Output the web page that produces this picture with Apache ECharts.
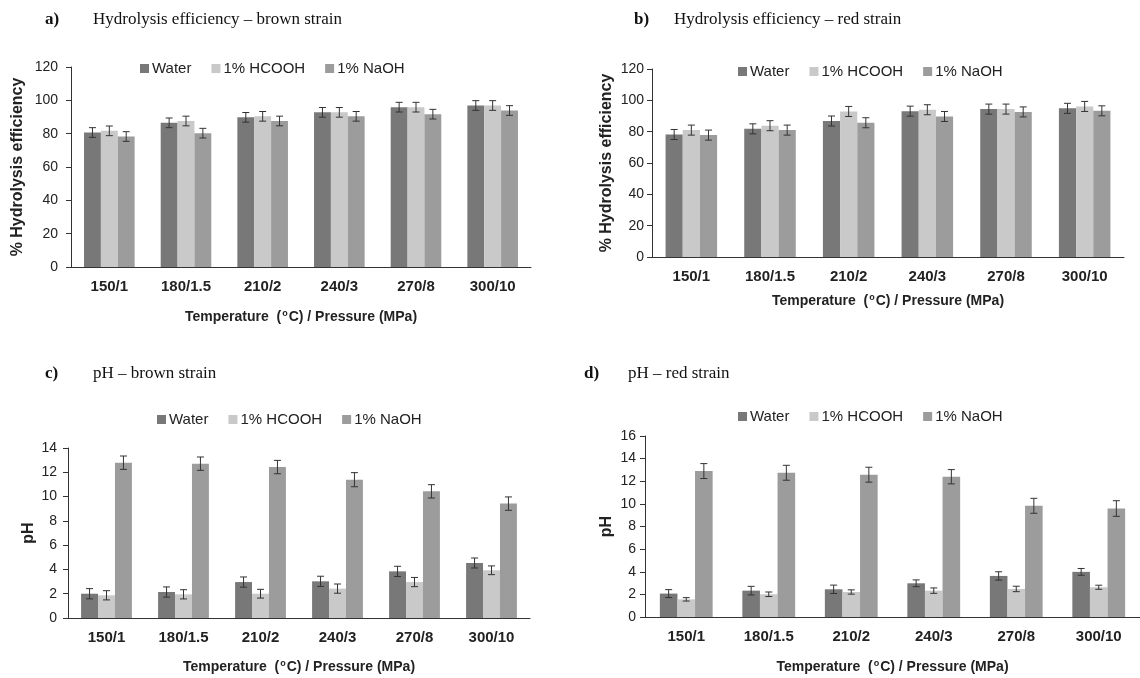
<!DOCTYPE html>
<html>
<head>
<meta charset="utf-8">
<title>Hydrolysis efficiency and pH – brown and red strains</title>
<script src="https://cdn.jsdelivr.net/npm/echarts@6/dist/echarts.min.js"></script>
<style>
  html, body { margin: 0; padding: 0; background: #ffffff; }
  #chart { width: 1140px; height: 678px; }
</style>
</head>
<body>
<div id="chart"></div>
<script>
// Process conditions on the x axis
const categories = ['150/1', '180/1.5', '210/2', '240/3', '270/8', '300/10'];
const treatments = ['Water', '1% HCOOH', '1% NaOH'];

// a) Hydrolysis efficiency (%) – brown strain
const effBrownWater = [80.7, 86.5, 89.8, 92.8, 95.9, 96.9];
const effBrownHcooh = [81.7, 87.6, 90.4, 92.8, 95.9, 96.9];
const effBrownNaoh  = [78.3, 80.3, 87.6, 90.4, 91.7, 93.9];
const effBrownWaterErr = [2.9, 2.9, 2.9, 2.9, 2.9, 2.9];
const effBrownHcoohErr = [2.9, 2.9, 2.9, 2.9, 2.9, 2.9];
const effBrownNaohErr  = [2.9, 2.9, 2.9, 2.9, 2.9, 2.9];

// b) Hydrolysis efficiency (%) – red strain
const effRedWater = [78.2, 81.8, 86.8, 93.1, 94.4, 94.9];
const effRedHcooh = [81.0, 83.8, 92.9, 94.0, 94.4, 96.1];
const effRedNaoh  = [77.8, 81.0, 85.7, 89.7, 92.6, 93.3];
const effRedWaterErr = [3.2, 3.2, 3.2, 3.2, 3.2, 3.2];
const effRedHcoohErr = [3.2, 3.2, 3.2, 3.2, 3.2, 3.2];
const effRedNaohErr  = [3.2, 3.2, 3.2, 3.2, 3.2, 3.2];

// c) pH – brown strain
const phBrownWater = [2.0, 2.14, 2.96, 3.02, 3.84, 4.53];
const phBrownHcooh = [1.87, 1.95, 2.0, 2.42, 2.96, 3.93];
const phBrownNaoh  = [12.79, 12.71, 12.43, 11.39, 10.43, 9.42];
const phBrownWaterErr = [0.42, 0.42, 0.42, 0.42, 0.42, 0.41];
const phBrownHcoohErr = [0.38, 0.38, 0.36, 0.38, 0.38, 0.36];
const phBrownNaohErr  = [0.55, 0.55, 0.55, 0.58, 0.55, 0.55];

// d) pH – red strain
const phRedWater = [2.07, 2.33, 2.45, 2.98, 3.63, 3.99];
const phRedHcooh = [1.56, 2.01, 2.21, 2.33, 2.48, 2.63];
const phRedNaoh  = [12.9, 12.75, 12.58, 12.4, 9.83, 9.59];
const phRedWaterErr = [0.35, 0.38, 0.37, 0.3, 0.37, 0.3];
const phRedHcoohErr = [0.15, 0.2, 0.19, 0.24, 0.24, 0.18];
const phRedNaohErr  = [0.66, 0.66, 0.66, 0.63, 0.66, 0.69];

const colors = ['#787878', '#c9c9c9', '#9c9c9c'];
const sans = 'Liberation Sans, Arial, sans-serif';
const serif = 'Liberation Serif, Times New Roman, serif';

// Panel layout: plot rectangles, axis ranges and label spacing
const panels = [
  { grid: { left: 71, top: 67, width: 460, height: 200 }, max: 120, interval: 20,
    values: [effBrownWater, effBrownHcooh, effBrownNaoh],
    errors: [effBrownWaterErr, effBrownHcoohErr, effBrownNaohErr],
    yName: '% Hydrolysis efficiency', yNameGap: 45, yLabelMargin: 13, xNameGap: 42, gap: 0.34,
    legend: { left: 140, top: 61 } },
  { grid: { left: 652, top: 69, width: 472, height: 188 }, max: 120, interval: 20,
    values: [effRedWater, effRedHcooh, effRedNaoh],
    errors: [effRedWaterErr, effRedHcoohErr, effRedNaohErr],
    yName: '% Hydrolysis efficiency', yNameGap: 37, yLabelMargin: 8, xNameGap: 36, gap: 0.345,
    legend: { left: 738, top: 64 } },
  { grid: { left: 68, top: 448, width: 462, height: 170 }, max: 14, interval: 2,
    values: [phBrownWater, phBrownHcooh, phBrownNaoh],
    errors: [phBrownWaterErr, phBrownHcoohErr, phBrownNaohErr],
    yName: 'pH', yNameGap: 31, yLabelMargin: 11, xNameGap: 41, gap: 0.34,
    legend: { left: 157, top: 412 } },
  { grid: { left: 645, top: 436, width: 501, height: 181 }, max: 16, interval: 2,
    values: [phRedWater, phRedHcooh, phRedNaoh],
    errors: [phRedWaterErr, phRedHcoohErr, phRedNaohErr],
    yName: 'pH', yNameGap: 30, yLabelMargin: 9, xNameGap: 42, gap: 0.36,
    legend: { left: 738, top: 409 } }
];

const xTitle = '{n|Temperature  (}{s|o}{n|C) / Pressure (MPa)}';

// Error bars: vertical whisker with short caps, placed over each bar of a group
function makeErrorRenderer(gap) {
  return function (params, api) {
    const cat = api.value(0);
    const idx = api.value(1);
    const v = api.value(2);
    const e = api.value(3);
    const band = api.size([1, 0])[0];
    const bw = band * (1 - gap) / 3;
    const c = api.coord([cat, v]);
    const x = c[0] + (idx - 1) * bw;
    const yTop = api.coord([cat, v + e])[1];
    const yBot = api.coord([cat, v - e])[1];
    const cap = 3.5;
    const st = { stroke: '#333333', lineWidth: 1 };
    return {
      type: 'group',
      children: [
        { type: 'line', shape: { x1: x, y1: yTop, x2: x, y2: yBot }, style: st },
        { type: 'line', shape: { x1: x - cap, y1: yTop, x2: x + cap, y2: yTop }, style: st },
        { type: 'line', shape: { x1: x - cap, y1: yBot, x2: x + cap, y2: yBot }, style: st }
      ]
    };
  };
}

const grids = [], xAxes = [], yAxes = [], series = [], legends = [];

panels.forEach(function (p, k) {
  grids.push(p.grid);
  xAxes.push({
    type: 'category', gridIndex: k, data: categories,
    axisLine: { lineStyle: { color: '#333333', width: 1 } },
    axisTick: { alignWithLabel: true, length: 5, lineStyle: { color: '#333333' } },
    axisLabel: { color: '#222222', fontFamily: sans, fontWeight: 'bold', fontSize: 15, margin: 12 },
    name: xTitle, nameLocation: 'middle', nameGap: p.xNameGap,
    nameTextStyle: {
      rich: {
        n: { fontFamily: sans, fontWeight: 'bold', fontSize: 14, color: '#222222', lineHeight: 16 },
        s: { fontFamily: sans, fontWeight: 'bold', fontSize: 9, color: '#222222', lineHeight: 16, padding: [0, 1, 7, 1] }
      }
    }
  });
  yAxes.push({
    type: 'value', gridIndex: k, min: 0, max: p.max, interval: p.interval,
    splitLine: { show: false },
    axisLine: { show: true, lineStyle: { color: '#333333', width: 1 } },
    axisTick: { show: true, length: 5, lineStyle: { color: '#333333' } },
    axisLabel: { color: '#222222', fontFamily: sans, fontSize: 14, margin: p.yLabelMargin },
    name: p.yName, nameLocation: 'middle', nameGap: p.yNameGap,
    nameTextStyle: { fontFamily: sans, fontWeight: 'bold', fontSize: 16, color: '#222222' }
  });
  legends.push({
    data: treatments, left: p.legend.left, top: p.legend.top, padding: 0,
    icon: 'rect', itemWidth: 9, itemHeight: 9, itemGap: 20,
    textStyle: { fontFamily: sans, fontSize: 15, color: '#222222', padding: [0, 0, 0, -2] }
  });
  p.values.forEach(function (vals, i) {
    series.push({
      type: 'bar', name: treatments[i], xAxisIndex: k, yAxisIndex: k,
      data: vals, barGap: '0%', barCategoryGap: (p.gap * 100) + '%',
      itemStyle: { color: colors[i] }
    });
  });
  const errData = [];
  p.values.forEach(function (vals, i) {
    vals.forEach(function (v, j) { errData.push([j, i, v, p.errors[i][j]]); });
  });
  series.push({
    type: 'custom', name: 'err' + k, xAxisIndex: k, yAxisIndex: k,
    renderItem: makeErrorRenderer(p.gap),
    encode: { x: 0, y: 2 }, data: errData, z: 5, silent: true
  });
});

// Panel headings
const headings = [
  { tag: 'a)', text: 'Hydrolysis efficiency – brown strain', x: 45, tx: 93, y: 19 },
  { tag: 'b)', text: 'Hydrolysis efficiency – red strain', x: 634, tx: 674, y: 19 },
  { tag: 'c)', text: 'pH – brown strain', x: 45, tx: 93, y: 373 },
  { tag: 'd)', text: 'pH – red strain', x: 584, tx: 628, y: 373 }
];
const graphics = [];
headings.forEach(function (h) {
  graphics.push({ type: 'text', left: h.x, top: h.y - 8,
    style: { text: h.tag, font: 'bold 17px ' + serif, fill: '#111111' } });
  graphics.push({ type: 'text', left: h.tx, top: h.y - 8,
    style: { text: h.text, font: '17px ' + serif, fill: '#111111' } });
});

const chart = echarts.init(document.getElementById('chart'), null, { renderer: 'canvas' });
chart.setOption({
  animation: false,
  backgroundColor: '#ffffff',
  grid: grids,
  xAxis: xAxes,
  yAxis: yAxes,
  legend: legends,
  series: series,
  graphic: graphics
});
</script>
</body>
</html>
